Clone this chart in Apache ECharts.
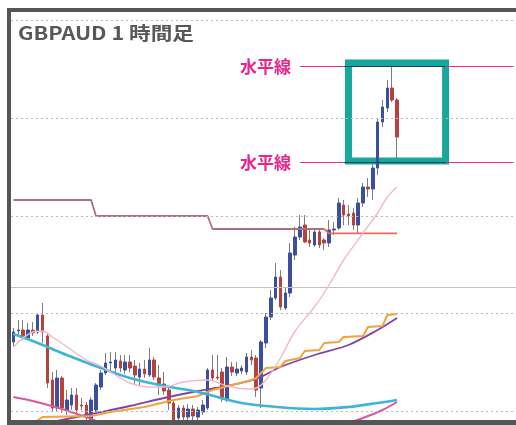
<!DOCTYPE html>
<html>
<head>
<meta charset="utf-8">
<script src="https://cdn.jsdelivr.net/npm/echarts@6/dist/echarts.min.js"></script>
<style>
html, body { margin: 0; padding: 0; background: #fff; }
#chart { width: 516px; height: 425px; }
</style>
</head>
<body>
<div id="chart"></div>
<script>
// GBPAUD 1時間足 : 始値・終値・安値・高値
var openPrice = [
  1.77390, 1.77445, 1.77450, 1.77410, 1.77450, 1.77440, 1.77525, 1.77420, 1.77200, 1.77060,
  1.77210, 1.77050, 1.77075, 1.77125, 1.77075, 1.77075, 1.77000, 1.77050, 1.77165, 1.77235,
  1.77285, 1.77260, 1.77295, 1.77250, 1.77290, 1.77270, 1.77215, 1.77255, 1.77225, 1.77300,
  1.77210, 1.77180, 1.77150, 1.77085, 1.77010, 1.77060, 1.77015, 1.77055, 1.77015, 1.77040,
  1.77060, 1.77250, 1.77215, 1.77240, 1.77100, 1.77265, 1.77235, 1.77245, 1.77240, 1.77315,
  1.77310, 1.77160, 1.77385, 1.77515, 1.77610, 1.77715, 1.77560, 1.77635, 1.77825, 1.77915,
  1.77975, 1.77900, 1.77875, 1.77940, 1.77900, 1.77885, 1.77950, 1.77960, 1.78075, 1.78030,
  1.78035, 1.77975, 1.78085, 1.78165, 1.78155, 1.78260, 1.78490, 1.78560, 1.78660, 1.78600
];
var closePrice = [
  1.77440, 1.77450, 1.77415, 1.77450, 1.77435, 1.77525, 1.77440, 1.77185, 1.77060, 1.77210,
  1.77060, 1.77100, 1.77125, 1.77050, 1.77070, 1.77025, 1.77100, 1.77175, 1.77235, 1.77285,
  1.77290, 1.77300, 1.77260, 1.77290, 1.77260, 1.77225, 1.77255, 1.77230, 1.77300, 1.77215,
  1.77175, 1.77145, 1.77085, 1.77000, 1.77060, 1.77015, 1.77055, 1.77020, 1.77050, 1.77075,
  1.77250, 1.77210, 1.77210, 1.77110, 1.77265, 1.77240, 1.77255, 1.77260, 1.77315, 1.77300,
  1.77150, 1.77390, 1.77515, 1.77610, 1.77715, 1.77565, 1.77635, 1.77835, 1.77915, 1.77965,
  1.77890, 1.77885, 1.77940, 1.77875, 1.77885, 1.77950, 1.77955, 1.78085, 1.78025, 1.78020,
  1.77975, 1.78085, 1.78165, 1.78155, 1.78260, 1.78490, 1.78565, 1.78660, 1.78600, 1.78415
];
var lowPrice = [
  1.77365, 1.77415, 1.77400, 1.77400, 1.77420, 1.77430, 1.77385, 1.77160, 1.77040, 1.77040,
  1.77035, 1.77025, 1.77050, 1.77035, 1.77050, 1.76985, 1.76975, 1.77040, 1.77150, 1.77225,
  1.77240, 1.77240, 1.77240, 1.77230, 1.77240, 1.77175, 1.77175, 1.77210, 1.77215, 1.77200,
  1.77125, 1.77125, 1.77050, 1.76985, 1.76985, 1.76995, 1.77000, 1.77000, 1.77000, 1.77025,
  1.77050, 1.77200, 1.77200, 1.77090, 1.77090, 1.77220, 1.77220, 1.77230, 1.77225, 1.77275,
  1.77115, 1.77060, 1.77360, 1.77500, 1.77600, 1.77550, 1.77550, 1.77615, 1.77800, 1.77900,
  1.77885, 1.77865, 1.77865, 1.77860, 1.77850, 1.77865, 1.77925, 1.77950, 1.77975, 1.77975,
  1.77950, 1.77935, 1.78065, 1.78115, 1.78100, 1.78225, 1.78465, 1.78540, 1.78590, 1.78310
];
var highPrice = [
  1.77460, 1.77500, 1.77500, 1.77485, 1.77490, 1.77535, 1.77585, 1.77435, 1.77240, 1.77250,
  1.77220, 1.77150, 1.77160, 1.77160, 1.77110, 1.77090, 1.77115, 1.77185, 1.77250, 1.77335,
  1.77340, 1.77340, 1.77325, 1.77325, 1.77325, 1.77300, 1.77285, 1.77300, 1.77360, 1.77315,
  1.77275, 1.77240, 1.77165, 1.77095, 1.77075, 1.77075, 1.77080, 1.77075, 1.77065, 1.77100,
  1.77260, 1.77325, 1.77325, 1.77260, 1.77315, 1.77290, 1.77290, 1.77275, 1.77335, 1.77350,
  1.77325, 1.77400, 1.77535, 1.77650, 1.77785, 1.77750, 1.77665, 1.77885, 1.77965, 1.78025,
  1.78025, 1.77950, 1.77960, 1.77960, 1.77910, 1.78000, 1.77990, 1.78110, 1.78100, 1.78075,
  1.78060, 1.78110, 1.78185, 1.78210, 1.78285, 1.78510, 1.78600, 1.78700, 1.78770, 1.78610
];

// インジケーター [足番号, 値]
var maLong = [[0, 1.77430], [4, 1.77395], [11, 1.77325], [18, 1.77260], [24, 1.77210], [31, 1.77170],
  [38, 1.77140], [46, 1.77090], [52, 1.77070], [62, 1.77055], [69, 1.77065], [75, 1.77085], [79, 1.77100]];
var maShort = [[0, 1.77365], [2, 1.77410], [4, 1.77440], [6, 1.77445], [8, 1.77415], [12, 1.77350],
  [15, 1.77300], [18, 1.77270], [21, 1.77225], [24, 1.77185], [28, 1.77165], [31, 1.77165], [35, 1.77190],
  [40, 1.77200], [44, 1.77170], [48, 1.77155], [50, 1.77160], [52, 1.77200], [55, 1.77310], [58, 1.77445],
  [62, 1.77565], [65, 1.77675], [68, 1.77800], [72, 1.77935], [75, 1.78035], [77, 1.78115], [79, 1.78165]];
var maMid = [[3, 1.76965], [10, 1.77000], [16, 1.77030], [24, 1.77070], [31, 1.77110], [37, 1.77140],
  [44, 1.77170], [50, 1.77205], [55, 1.77265], [62, 1.77325], [69, 1.77375], [75, 1.77450], [79, 1.77510]];
var stepLine = [[3, 1.76965], [6, 1.77015], [16, 1.77020], [20, 1.77040], [27, 1.77065], [33, 1.77100],
  [38, 1.77120], [41, 1.77150], [45, 1.77175], [49, 1.77200], [50, 1.77210], [52, 1.77260], [55, 1.77265],
  [56, 1.77295], [59, 1.77310], [60, 1.77345], [63, 1.77350], [64, 1.77385], [67, 1.77390], [68, 1.77415],
  [72, 1.77420], [73, 1.77465], [76, 1.77470], [77, 1.77525], [79, 1.77530]];
var maSlow = [[0, 1.77115], [4, 1.77095], [10, 1.77055], [16, 1.77005], [21, 1.76960], [40, 1.76850],
  [65, 1.76940], [68, 1.76975], [72, 1.77010], [76, 1.77050], [79, 1.77090]];
var resistOld = [[0, 1.78100], [16, 1.78100], [17, 1.78020], [40, 1.78020], [41, 1.77955], [64, 1.77955]];
var resistNew = [[64, 1.77955], [65, 1.77933], [79, 1.77933]];

// 水平線・グリッド
var gridLevels = [1.79000, 1.78510, 1.78020, 1.77535, 1.77045];
var solidLevel = 1.77665;
var horizLevels = [1.78767, 1.78288];
var boxFrom = [69, 1.78785];
var boxTo = [89, 1.78295];

var slots = [];
for (var i = 0; i < 104; i++) slots.push(String(i));

var wicks = openPrice.map(function (o, i) {
  return [o, closePrice[i], lowPrice[i], highPrice[i]];
});
var bodies = openPrice.map(function (o, i) {
  var c = closePrice[i];
  return [o, c, Math.min(o, c), Math.max(o, c)];
});

function lineSeries(name, data, color, width, smooth, z) {
  return {
    name: name, type: 'line', data: data, smooth: smooth, showSymbol: false,
    lineStyle: { color: color, width: width }, z: z, silent: true
  };
}

var gridLines = gridLevels.map(function (v) {
  return { yAxis: v, lineStyle: { color: '#b9b9b9', width: 1, type: [2, 3] } };
});
gridLines.push({ yAxis: solidLevel, lineStyle: { color: '#c2c2c2', width: 1.2, type: 'solid' } });

var myChart = echarts.init(document.getElementById('chart'));
myChart.setOption({
  animation: false,
  textStyle: { fontFamily: '"Noto Sans CJK JP", "Noto Sans", sans-serif' },
  grid: { left: 11, right: -5, top: 12, bottom: 5 },
  xAxis: {
    type: 'category', data: slots, boundaryGap: true,
    axisLine: { show: false }, axisTick: { show: false }, axisLabel: { show: false }, splitLine: { show: false }
  },
  yAxis: {
    type: 'value', min: 1.77, max: 1.7904, show: false, splitLine: { show: false }
  },
  series: [
    {
      name: 'grid', type: 'line', data: [], z: 1, silent: true,
      markLine: { silent: true, symbol: 'none', precision: 6, label: { show: false }, data: gridLines }
    },
    {
      name: 'wick', type: 'candlestick', data: wicks, barWidth: 1, z: 2, silent: true,
      itemStyle: { color: '#7d7d7d', color0: '#7d7d7d', borderColor: '#7d7d7d', borderColor0: '#7d7d7d', borderWidth: 1 }
    },
    {
      name: 'body', type: 'candlestick', data: bodies, barWidth: 3, z: 3, silent: true,
      itemStyle: { color: '#3a4fa2', color0: '#b8413e', borderColor: '#3a4fa2', borderColor0: '#b8413e', borderWidth: 1 }
    },
    lineSeries('resistOld', resistOld, '#a9737c', 1.8, false, 4),
    lineSeries('resistNew', resistNew, '#e46b5c', 1.8, false, 4),
    lineSeries('maSlow', maSlow, '#df559e', 2, 0.3, 4),
    lineSeries('maMid', maMid, '#7e45a8', 1.8, 0.3, 4),
    lineSeries('step', stepLine, '#f3a339', 2, false, 4),
    lineSeries('maLong', maLong, '#3fb4d6', 2.6, 0.4, 5),
    lineSeries('maShort', maShort, '#f3b9c8', 1.4, 0.3, 5),
    {
      name: 'levels', type: 'line', data: [], z: 6, silent: true,
      markLine: {
        silent: true, symbol: 'none', precision: 6,
        lineStyle: { color: '#ec2a8d', width: 1.2, type: 'solid' },
        label: {
          show: true, position: 'start', formatter: '水平線', distance: 9,
          color: '#e8268a', fontSize: 17, fontWeight: 'bold'
        },
        data: horizLevels.map(function (v) {
          return [{ coord: [59, v] }, { coord: [103, v] }];
        })
      }
    },
    {
      name: 'box', type: 'line', data: [], z: 7, silent: true,
      markArea: {
        silent: true,
        itemStyle: { color: 'rgba(0,0,0,0)', borderColor: '#17a89b', borderWidth: 7 },
        data: [[{ coord: boxFrom }, { coord: boxTo }]]
      },
      markLine: {
        silent: true, symbol: 'none', precision: 6, label: { show: false },
        lineStyle: { color: '#1c3d66', width: 1, type: 'solid' },
        data: horizLevels.map(function (v) {
          return [{ coord: [68, v] }, { coord: [89, v] }];
        })
      }
    }
  ],
  graphic: [
    { type: 'rect', z: 100, shape: { x: 7, y: 8, width: 4, height: 417 }, style: { fill: '#555' } },
    { type: 'rect', z: 100, shape: { x: 7, y: 8, width: 509, height: 4 }, style: { fill: '#555' } },
    { type: 'rect', z: 100, shape: { x: 7, y: 420, width: 509, height: 5 }, style: { fill: '#555' } },
    {
      type: 'text', z: 100, x: 18, y: 33, scaleX: 1.2,
      style: {
        text: 'GBPAUD 1 時間足', fill: '#585858', verticalAlign: 'middle',
        font: 'bold 18px "Noto Sans CJK JP", sans-serif'
      }
    }
  ]
});
</script>
</body>
</html>
